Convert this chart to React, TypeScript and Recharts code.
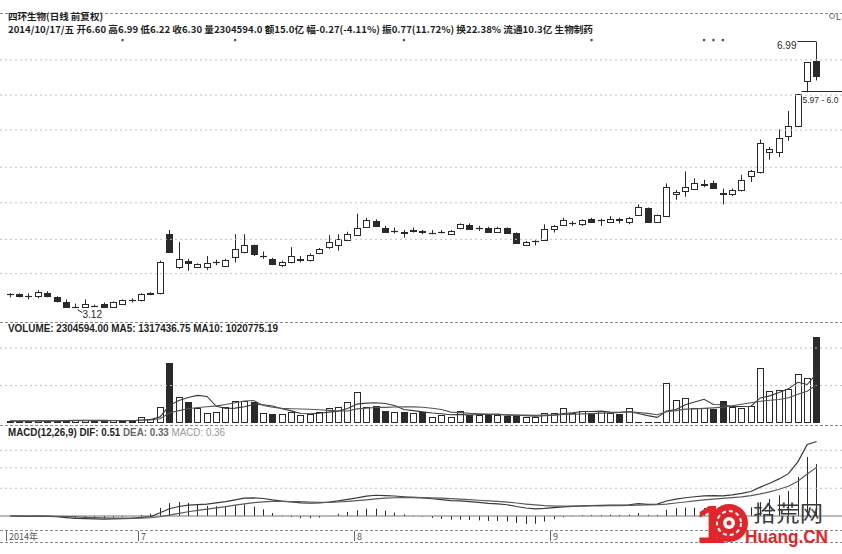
import React from "react";
import {
  ComposedChart,
  Bar,
  Line,
  XAxis,
  YAxis,
  ReferenceLine,
  ReferenceDot,
} from "recharts";

// trading days, 2014-06-11 .. 2014-10-17
const dates = [
  "06-11", "06-12", "06-13", "06-16", "06-17", "06-18", "06-19", "06-20", "06-23", "06-24", "06-25", "06-26", "06-27", "06-30",
  "07-01", "07-02", "07-03", "07-04", "07-07", "07-08", "07-09", "07-10", "07-11", "07-14", "07-15", "07-16", "07-17", "07-18",
  "07-21", "07-22", "07-23", "07-24", "07-25", "07-28", "07-29", "07-30", "07-31",
  "08-01", "08-04", "08-05", "08-06", "08-07", "08-08", "08-11", "08-12", "08-13", "08-14", "08-15", "08-18", "08-19", "08-20",
  "08-21", "08-22", "08-25", "08-26", "08-27", "08-28", "08-29",
  "09-01", "09-02", "09-03", "09-04", "09-05", "09-09", "09-10", "09-11", "09-12", "09-15", "09-16", "09-17", "09-18", "09-19",
  "09-22", "09-23", "09-24", "09-25", "09-26", "09-29", "09-30",
  "10-08", "10-09", "10-10", "10-13", "10-14", "10-15", "10-16", "10-17",
];

const opens = [
  3.25, 3.25, 3.23, 3.23, 3.26, 3.22, 3.17, 3.13, 3.13, 3.14,
  3.16, 3.13, 3.16, 3.19, 3.19, 3.25, 3.26, 3.90, 3.53, 3.60,
  3.53, 3.53, 3.58, 3.54, 3.64, 3.70, 3.77, 3.65, 3.62, 3.55,
  3.59, 3.61, 3.61, 3.68, 3.75, 3.77, 3.83, 3.89, 3.99, 4.06,
  3.98, 3.94, 3.93, 3.94, 3.94, 3.92, 3.93, 3.90, 3.97, 4.01,
  3.97, 3.98, 3.93, 3.97, 3.91, 3.78, 3.82, 3.83, 3.96, 4.01,
  4.03, 4.02, 4.09, 4.07, 4.05, 4.08, 4.05, 4.14, 4.22, 4.05,
  4.12, 4.40, 4.45, 4.48, 4.53, 4.55, 4.42, 4.40, 4.46, 4.65,
  4.71, 5.01, 5.01, 5.25, 5.42, 6.20, 6.60,
];
const highs = [
  3.26, 3.26, 3.26, 3.29, 3.28, 3.23, 3.20, 3.16, 3.20, 3.15,
  3.17, 3.18, 3.20, 3.21, 3.26, 3.27, 3.60, 3.95, 3.81, 3.62,
  3.57, 3.65, 3.61, 3.62, 3.90, 3.90, 3.78, 3.70, 3.63, 3.60,
  3.75, 3.65, 3.68, 3.74, 3.89, 3.90, 3.93, 4.15, 4.10, 4.08,
  4.00, 3.98, 3.95, 3.98, 3.95, 3.95, 3.95, 3.95, 4.03, 4.03,
  4.00, 3.99, 3.99, 3.98, 3.92, 3.82, 3.83, 4.02, 4.01, 4.10,
  4.06, 4.08, 4.10, 4.09, 4.12, 4.10, 4.11, 4.27, 4.23, 4.14,
  4.55, 4.46, 4.72, 4.62, 4.60, 4.59, 4.48, 4.48, 4.67, 4.74,
  5.20, 5.08, 5.36, 5.67, 5.97, 6.58, 6.99,
];
const lows = [
  3.22, 3.22, 3.20, 3.21, 3.22, 3.17, 3.13, 3.12, 3.13, 3.13,
  3.13, 3.13, 3.15, 3.17, 3.18, 3.24, 3.25, 3.69, 3.51, 3.49,
  3.52, 3.50, 3.55, 3.53, 3.58, 3.68, 3.65, 3.62, 3.55, 3.53,
  3.57, 3.58, 3.59, 3.67, 3.73, 3.71, 3.82, 3.88, 3.98, 3.99,
  3.92, 3.91, 3.86, 3.92, 3.90, 3.90, 3.91, 3.89, 3.96, 3.95,
  3.94, 3.92, 3.92, 3.91, 3.79, 3.77, 3.77, 3.82, 3.92, 4.00,
  4.00, 4.00, 4.04, 4.00, 4.04, 4.03, 4.02, 4.13, 4.04, 4.04,
  4.11, 4.33, 4.37, 4.46, 4.50, 4.48, 4.27, 4.38, 4.44, 4.57,
  4.69, 4.89, 4.93, 5.18, 5.40, 6.00, 6.22,
];
const closes = [
  3.25, 3.23, 3.23, 3.27, 3.23, 3.18, 3.13, 3.13, 3.16, 3.14,
  3.13, 3.17, 3.19, 3.19, 3.25, 3.26, 3.59, 3.70, 3.62, 3.57,
  3.56, 3.57, 3.58, 3.61, 3.73, 3.78, 3.67, 3.65, 3.56, 3.59,
  3.65, 3.62, 3.66, 3.73, 3.81, 3.84, 3.90, 3.98, 4.07, 4.00,
  3.93, 3.94, 3.91, 3.95, 3.93, 3.92, 3.93, 3.94, 4.02, 3.96,
  3.97, 3.93, 3.98, 3.92, 3.80, 3.81, 3.82, 3.96, 4.00, 4.07,
  4.04, 4.07, 4.05, 4.07, 4.08, 4.07, 4.10, 4.24, 4.05, 4.13,
  4.50, 4.43, 4.50, 4.55, 4.54, 4.49, 4.41, 4.46, 4.60, 4.72,
  5.15, 5.05, 5.23, 5.42, 5.97, 6.57, 6.30,
];

const volumes = [
  60000, 50000, 45000, 70000, 55000, 60000, 90000, 70000, 80000, 50000,
  55000, 70000, 65000, 60000, 150000, 120000, 420000, 1610000, 700000, 560000,
  400000, 270000, 295000, 430000, 590000, 590000, 560000, 270000, 250000, 240000,
  300000, 215000, 240000, 300000, 400000, 430000, 560000, 830000, 430000, 460000,
  320000, 300000, 300000, 270000, 300000, 160000, 215000, 160000, 320000, 215000,
  215000, 215000, 215000, 190000, 190000, 160000, 160000, 270000, 270000, 400000,
  270000, 320000, 270000, 320000, 270000, 240000, 400000, 40000, 35000, 40000,
  1070000, 620000, 670000, 400000, 400000, 375000, 590000, 420000, 410000, 450000,
  1480000, 860000, 870000, 900000, 1320000, 1190000, 2304594,
];
const volMa5 = [
  55000, 55000, 52000, 55000, 56000, 56000, 64000, 69000, 71000, 70000,
  69000, 65000, 64000, 60000, 80000, 93000, 163000, 472000, 600000, 682000,
  738000, 708000, 445000, 391000, 397000, 435000, 493000, 488000, 452000, 382000,
  324000, 255000, 249000, 259000, 291000, 317000, 386000, 504000, 530000, 542000,
  520000, 468000, 362000, 330000, 298000, 266000, 249000, 221000, 231000, 214000,
  225000, 225000, 236000, 210000, 205000, 194000, 183000, 194000, 210000, 252000,
  274000, 306000, 306000, 316000, 290000, 284000, 300000, 254000, 197000, 151000,
  317000, 361000, 487000, 560000, 632000, 493000, 487000, 437000, 439000, 449000,
  670000, 724000, 814000, 912000, 1086000, 1028000, 1317437,
];
const volMa10 = [
  58000, 57000, 56000, 57000, 56000, 56000, 60000, 62000, 63000, 63000,
  62500, 64500, 66500, 65500, 75000, 81000, 114000, 268000, 330000, 381000,
  415500, 435500, 458500, 495500, 539500, 586500, 600500, 466500, 421500, 389500,
  379500, 374000, 368500, 355500, 336500, 320500, 320500, 376500, 394500, 416500,
  418500, 427000, 433000, 430000, 420000, 393000, 358500, 291500, 280500, 256000,
  245500, 237000, 228500, 220500, 209500, 209500, 204000, 215000, 210000, 228500,
  234000, 244500, 250000, 263000, 271000, 279000, 303000, 280000, 256500, 220500,
  300500, 330500, 370500, 378500, 391500, 405000, 424000, 462000, 499500, 540500,
  581500, 605500, 625500, 675500, 767500, 849000, 1020775,
];

const dif = [
  0, -0.001, -0.002, -0.001, -0.002, -0.005, -0.011, -0.016, -0.018, -0.02,
  -0.021, -0.02, -0.018, -0.016, -0.01, -0.004, 0.022, 0.05, 0.065, 0.074,
  0.078, 0.082, 0.09, 0.098, 0.11, 0.123, 0.124, 0.12, 0.11, 0.102,
  0.096, 0.09, 0.088, 0.089, 0.095, 0.104, 0.114, 0.124, 0.136, 0.142,
  0.14, 0.137, 0.132, 0.128, 0.124, 0.118, 0.112, 0.106, 0.103, 0.098,
  0.093, 0.087, 0.083, 0.077, 0.065, 0.055, 0.049, 0.052, 0.057, 0.063,
  0.066, 0.07, 0.072, 0.073, 0.075, 0.075, 0.077, 0.085, 0.08, 0.081,
  0.103, 0.116, 0.125, 0.132, 0.138, 0.14, 0.138, 0.145, 0.155, 0.168,
  0.198, 0.224, 0.254, 0.29, 0.371, 0.49, 0.51,
];
const dea = [
  0, 0, -0.001, -0.001, -0.001, -0.002, -0.004, -0.006, -0.009, -0.011,
  -0.013, -0.014, -0.015, -0.015, -0.014, -0.012, -0.005, 0.006, 0.018, 0.029,
  0.039, 0.047, 0.056, 0.064, 0.074, 0.083, 0.092, 0.097, 0.1, 0.1,
  0.099, 0.098, 0.096, 0.094, 0.094, 0.096, 0.1, 0.105, 0.111, 0.117,
  0.122, 0.125, 0.126, 0.127, 0.126, 0.124, 0.122, 0.119, 0.116, 0.112,
  0.108, 0.104, 0.1, 0.095, 0.089, 0.082, 0.076, 0.071, 0.068, 0.067,
  0.067, 0.068, 0.069, 0.069, 0.071, 0.071, 0.073, 0.075, 0.076, 0.077,
  0.082, 0.089, 0.096, 0.103, 0.11, 0.116, 0.121, 0.126, 0.131, 0.139,
  0.151, 0.165, 0.183, 0.204, 0.238, 0.288, 0.333,
];
const macdHist = [
  0, -0.002, -0.003, -0.001, -0.002, -0.007, -0.015, -0.02, -0.019, -0.018,
  -0.016, -0.011, -0.006, -0.002, 0.008, 0.016, 0.055, 0.088, 0.095, 0.09,
  0.079, 0.069, 0.068, 0.067, 0.073, 0.079, 0.065, 0.046, 0.02, 0.004,
  -0.007, -0.015, -0.015, -0.011, 0.001, 0.015, 0.028, 0.039, 0.05, 0.05,
  0.036, 0.024, 0.012, 0.003, -0.004, -0.013, -0.02, -0.025, -0.025, -0.028,
  -0.03, -0.034, -0.034, -0.037, -0.048, -0.055, -0.053, -0.038, -0.022, -0.008,
  -0.002, 0.005, 0.007, 0.007, 0.009, 0.007, 0.009, 0.02, 0.008, 0.008,
  0.042, 0.054, 0.058, 0.057, 0.055, 0.048, 0.035, 0.039, 0.047, 0.059,
  0.095, 0.117, 0.142, 0.171, 0.267, 0.404, 0.355,
];

// horizontal guide levels and axis labels
const priceGrid = [6.62, 5.95, 5.35, 4.78, 4.29, 3.84, 3.46];
const volGrid = [1000000, 2000000];
const macdGrid = [0.19, 0.33, 0.45];
const monthTicks = ["06-11", "07-01", "08-01", "09-01"];
const monthLabels = ["2014年", "7", "8", "9"];
const eventMarks = ["06-27", "07-15", "08-08", "09-05", "09-24", "09-25", "09-26"];
const gapIdx = 84;
const gapLabel = "5.97 - 6.0";

const maxIdx = highs.indexOf(Math.max(...highs));
const minIdx = lows.indexOf(Math.min(...lows));

const data = dates.map((date, i) => ({
  i,
  date,
  open: opens[i],
  high: highs[i],
  low: lows[i],
  close: closes[i],
  range: [lows[i], highs[i]],
  up: closes[i] >= opens[i],
  vol: volumes[i],
  ma5: volMa5[i],
  ma10: volMa10[i],
  dif: dif[i],
  dea: dea[i],
  macd: macdHist[i],
}));

const ink = "#2a2a2a";
const gridColor = "#c2c2c2";
const numFont = "'Liberation Sans', Arial, sans-serif";
const cjkFont = "'Noto Sans CJK SC', 'Liberation Sans', sans-serif";
const xPad = { left: 5.3, right: 20.7 };

function Candle(props: any) {
  const { x, y, width, height, payload } = props;
  if (!payload || !Number.isFinite(y) || !Number.isFinite(height)) return null;
  const { open, close, high, low, i } = payload;
  const lh = Math.log(high);
  const ll = Math.log(low);
  // log price axis: interpolate inside the wick in log space
  const yOf = (v: number) => y + (height * (lh - Math.log(v))) / (lh - ll);
  const cx = Math.floor(x + width / 2) + 0.5;
  const top = Math.round(yOf(Math.max(open, close))) + 0.5;
  const bot = Math.round(yOf(Math.min(open, close))) + 0.5;
  const up = close >= open;
  return (
    <g>
      <line x1={cx} x2={cx} y1={y} y2={y + height} stroke={ink} strokeWidth={1} />
      {bot - top < 1 ? (
        <line x1={cx - 3.5} x2={cx + 3.5} y1={top} y2={top} stroke={ink} strokeWidth={1.2} />
      ) : (
        <rect x={cx - 3} y={top} width={6} height={bot - top} fill={up ? "#fff" : ink} stroke={ink} strokeWidth={1} />
      )}
      {i === maxIdx && (
        <g>
          <line x1={cx - 19} x2={cx} y1={y - 0.5} y2={y - 0.5} stroke={ink} strokeWidth={1} />
          <text x={cx - 20} y={y + 7} textAnchor="end" fontSize={10} fontFamily={numFont} fill={ink}>
            {high.toFixed(2)}
          </text>
        </g>
      )}
      {i === minIdx && (
        <g>
          <line x1={cx + 2} x2={cx + 7} y1={y + height + 2} y2={y + height + 5} stroke={ink} strokeWidth={1} />
          <text x={cx + 7} y={y + height + 10} fontSize={10} fontFamily={numFont} fill={ink}>
            {low.toFixed(2)}
          </text>
        </g>
      )}
      {i === gapIdx && (
        <g>
          <line
            x1={cx + 3}
            x2={cx + 200}
            y1={Math.round(yOf(lows[i + 1])) - 0.5}
            y2={Math.round(yOf(lows[i + 1])) - 0.5}
            stroke={ink}
            strokeWidth={1}
          />
          <text x={cx + 4} y={yOf(lows[i + 1]) + 11} fontSize={8.5} fontFamily={numFont} fill={ink}>
            {gapLabel}
          </text>
        </g>
      )}
    </g>
  );
}

function VolBar(props: any) {
  const { x, y, width, height, payload } = props;
  if (!payload || !(height > 0)) return null;
  const cx = Math.floor(x + width / 2) + 0.5;
  const top = Math.round(y) + 0.5;
  const bottom = Math.round(y + height) - 0.5;
  return (
    <rect
      x={cx - 3}
      y={top}
      width={6}
      height={Math.max(bottom - top, 0.5)}
      fill={payload.up ? "#fff" : ink}
      stroke={ink}
      strokeWidth={1}
    />
  );
}

function Stick(props: any) {
  const { x, y, width, height } = props;
  if (!Number.isFinite(y) || !Number.isFinite(height)) return null;
  const cx = Math.floor(x + width / 2) + 0.5;
  return <line x1={cx} x2={cx} y1={y} y2={y + height} stroke={ink} strokeWidth={1} />;
}

function MonthTick(props: any) {
  const { x, y, payload } = props;
  const k = monthTicks.indexOf(payload?.value);
  if (k < 0) return null;
  const lx = Math.floor(x) - 2.5;
  return (
    <g>
      <line x1={lx} x2={lx} y1={y + 6} y2={y + 16} stroke="#666" strokeWidth={1} />
      <text x={lx + 2.5} y={y + 14.5} fontSize={9} fontFamily={cjkFont} fill="#555" textAnchor="start">
        {monthLabels[k]}
      </text>
    </g>
  );
}

const separators = [13, 322, 425, 530, 542];

export default function App() {
  return (
    <div
      style={{
        position: "absolute",
        left: 0,
        top: 0,
        width: 842,
        height: 554,
        background: "#fff",
        overflow: "hidden",
      }}
    >
      {/* price panel */}
      <div style={{ position: "absolute", left: 0, top: 0 }}>
        <ComposedChart width={842} height={322} data={data} margin={{ top: 30, right: 0, bottom: 2, left: 0 }}>
          <XAxis dataKey="date" hide padding={xPad} />
          <YAxis hide scale="log" domain={[3.006, 7.249]} allowDataOverflow />
          {priceGrid.map((v) => (
            <ReferenceLine key={v} y={v} stroke={gridColor} strokeDasharray="2 3" />
          ))}
          {eventMarks.map((d) => (
            <ReferenceDot key={d} x={d} y={7.03} r={1.3} fill="#555" stroke="none" />
          ))}
          <Bar dataKey="range" shape={(p: any) => <Candle {...p} />} isAnimationActive={false} />
        </ComposedChart>
      </div>

      {/* volume panel */}
      <div style={{ position: "absolute", left: 0, top: 322 }}>
        <ComposedChart width={842} height={103} data={data} margin={{ top: 11.4, right: 0, bottom: 2, left: 0 }}>
          <XAxis dataKey="date" hide padding={xPad} />
          <YAxis hide domain={[0, 2392700]} allowDataOverflow />
          {volGrid.map((v) => (
            <ReferenceLine key={v} y={v} stroke={gridColor} strokeDasharray="2 3" />
          ))}
          <Bar dataKey="vol" shape={(p: any) => <VolBar {...p} />} isAnimationActive={false} />
          <Line dataKey="ma5" stroke="#3a3a3a" strokeWidth={1.1} dot={false} isAnimationActive={false} />
          <Line dataKey="ma10" stroke="#555" strokeWidth={1.1} dot={false} isAnimationActive={false} />
        </ComposedChart>
      </div>

      {/* MACD panel */}
      <div style={{ position: "absolute", left: 0, top: 425 }}>
        <ComposedChart width={842} height={129} data={data} margin={{ top: 15, right: 0, bottom: 0, left: 0 }}>
          <XAxis
            dataKey="date"
            padding={xPad}
            height={29}
            ticks={monthTicks}
            interval={0}
            tick={(p: any) => <MonthTick {...p} />}
            tickLine={false}
            axisLine={false}
            tickSize={0}
            tickMargin={0}
          />
          <YAxis hide domain={[-0.0616, 0.5205]} allowDataOverflow />
          {macdGrid.map((v) => (
            <ReferenceLine key={v} y={v} stroke={gridColor} strokeDasharray="2 3" />
          ))}
          <ReferenceLine y={0} stroke="#777" strokeWidth={1} />
          <Bar dataKey="macd" shape={(p: any) => <Stick {...p} />} isAnimationActive={false} />
          <Line dataKey="dif" stroke="#3a3a3a" strokeWidth={1.2} dot={false} isAnimationActive={false} />
          <Line dataKey="dea" stroke="#5a5a5a" strokeWidth={1.2} dot={false} isAnimationActive={false} />
        </ComposedChart>
      </div>

      {/* frame lines, captions and watermark */}
      <svg width={842} height={554} style={{ position: "absolute", left: 0, top: 0, pointerEvents: "none" }}>
        {separators.map((y) => (
          <line key={y} x1={0} x2={842} y1={y + 0.5} y2={y + 0.5} stroke="#8a8a8a" strokeDasharray="3 2" />
        ))}
        <text x={8} y={20} fontSize={9.5} fontWeight={700} fontFamily={cjkFont} fill="#1e1e1e" textLength={95} lengthAdjust="spacingAndGlyphs">
          四环生物(日线 前复权)
        </text>
        <text x={8} y={33} fontSize={9.5} fontWeight={700} fontFamily={cjkFont} fill="#1e1e1e" textLength={585} lengthAdjust="spacingAndGlyphs">
          2014/10/17/五 开6.60 高6.99 低6.22 收6.30 量2304594.0 额15.0亿 幅-0.27(-4.11%) 振0.77(11.72%) 换22.38% 流通10.3亿 生物制药
        </text>
        <circle cx={832} cy={16} r={2.5} fill="none" stroke="#777" strokeWidth={1} />
        <text x={836} y={20} fontSize={9} fontFamily={numFont} fill="#555">L</text>
        <text x={8} y={332} fontSize={10} fontWeight={700} fontFamily={numFont} fill="#1e1e1e" textLength={270} lengthAdjust="spacingAndGlyphs">
          VOLUME: 2304594.00 MA5: 1317436.75 MA10: 1020775.19
        </text>
        <text x={8} y={436} fontSize={10} fontWeight={700} fontFamily={numFont} fill="#1e1e1e" textLength={217} lengthAdjust="spacingAndGlyphs">
          MACD(12,26,9) DIF: 0.51 <tspan fill="#666">DEA: 0.33</tspan> <tspan fill="#999" fontWeight={400}>MACD: 0.36</tspan>
        </text>

        {/* watermark */}
        <text x={696} y={543} fontSize={54} fontWeight={700} fontFamily={numFont} fill="#e0262a">1</text>
        <circle cx={729} cy={523} r={19} fill="#e0262a" />
        <circle cx={729} cy={523} r={12} fill="none" stroke="#fff" strokeWidth={2} strokeDasharray="4 3" />
        <circle cx={729} cy={523} r={6} fill="#fff" />
        <circle cx={729} cy={523} r={2.5} fill="#e0262a" />
        <text x={753} y={521} fontSize={22} fontFamily={cjkFont} fill="#3a3a3a" textLength={70} lengthAdjust="spacingAndGlyphs">
          拾荒网
        </text>
        <text x={745} y={543} fontSize={19} fontWeight={700} fontFamily={numFont} fill="#e0262a" textLength={83} lengthAdjust="spacingAndGlyphs">
          Huang.CN
        </text>
      </svg>
    </div>
  );
}
